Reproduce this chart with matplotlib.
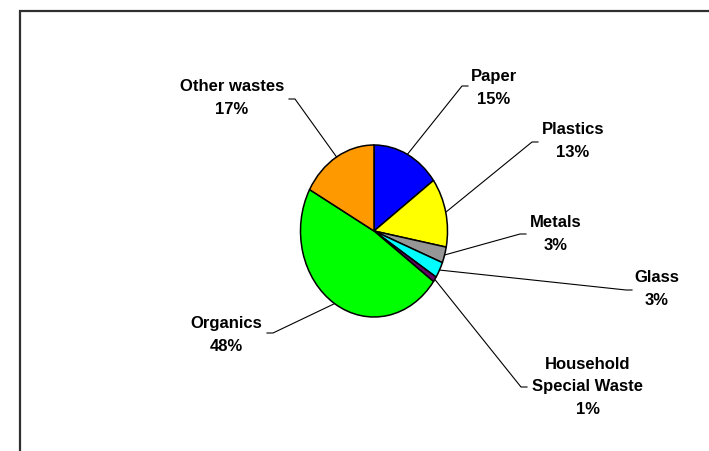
import numpy as np
import matplotlib.pyplot as plt
from matplotlib.patches import Rectangle

plt.rcParams['font.family'] = ['Liberation Sans', 'DejaVu Sans']

# waste composition, clockwise from 12 o'clock
names = ['Paper', 'Plastics', 'Metals', 'Glass', 'Household\nSpecial Waste',
         'Organics', 'Other wastes']
shares = [15, 13, 3, 3, 1, 48, 17]
colors = ['#0000FF', '#FFFF00', '#969696', '#00FFFF', '#660066',
          '#00FF00', '#FF9900']

# label centres and leader-line ends (pixels, origin top-left)
label_xy = [(494, 88), (573, 141), (556, 234), (657, 289), (588, 387),
            (226, 335), (232, 98)]
line_end = [(468, 86), (538, 142), (526, 234), (632, 290), (527, 387),
            (267, 333), (289, 99)]

W, H = 709, 451
cx, cy, rx, ry = 374, 231, 73.5, 86


def to_data(px, py):
    return (px - cx) / rx, (cy - py) / ry


fig = plt.figure(figsize=(W / 100, H / 100), dpi=100)
ax = fig.add_axes([0, 0, 1, 1])

wedges, _ = ax.pie(shares, colors=colors, startangle=90, counterclock=False,
                   radius=1, center=(0, 0),
                   wedgeprops=dict(edgecolor='black', linewidth=1.1))
ax.set_aspect('auto')
ax.set_xlim(to_data(0, 0)[0], to_data(W, 0)[0])
ax.set_ylim(to_data(0, H)[1], to_data(0, 0)[1])
ax.axis('off')

for w, name, s, (lx, ly), (ex, ey) in zip(wedges, names, shares, label_xy, line_end):
    ang = np.deg2rad((w.theta1 + w.theta2) / 2)
    p0 = (np.cos(ang), np.sin(ang))
    side = -1 if ex < cx else 1
    elbow = to_data(ex - side * 6, ey)
    end = to_data(ex, ey)
    ax.plot([p0[0], elbow[0], end[0]], [p0[1], elbow[1], end[1]],
            color='black', linewidth=0.8)
    tx, ty = to_data(lx, ly)
    ax.text(tx, ty, f'{name}\n{s}%', ha='center', va='center',
            fontsize=12, fontweight='bold', linespacing=1.6)

# chart area border
fig.patches.append(Rectangle((20 / W, -0.1), 1.0, 1 - 11 / H + 0.1,
                             transform=fig.transFigure, fill=False,
                             edgecolor='#303030', linewidth=1.6))

fig.savefig('out.png', dpi=100)
